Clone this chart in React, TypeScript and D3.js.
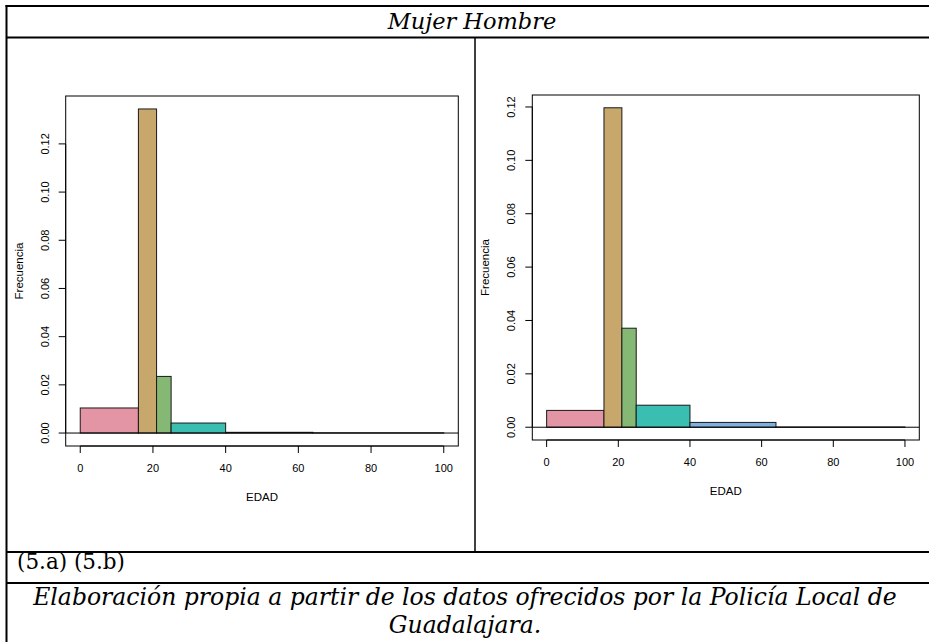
import * as d3 from "d3";
import * as React from "react";

// histogram breaks (EDAD) and densities
const breaks = [0, 16, 21, 25, 40, 64, 100];
const mujerDensity = [0.0104, 0.1345, 0.0235, 0.00415, 0.0003, 0.0001];
const hombreDensity = [0.0063, 0.1197, 0.0371, 0.00825, 0.0018, 0.0001];
const barColors = ["#E495A5", "#C7A76C", "#86B875", "#39BEB1", "#7DB0DD", "#CD99D8"];
const xTicks = [0, 20, 40, 60, 80, 100];
const yTicks = [0, 0.02, 0.04, 0.06, 0.08, 0.1, 0.12];
const xLabel = "EDAD";
const yLabel = "Frecuencia";
const headerText = "Mujer Hombre";
const panelText = "(5.a) (5.b)";
const sourceLines = [
    "Elaboración propia a partir de los datos ofrecidos por la Policía Local de",
    "Guadalajara.",
];

interface Box {
    left: number;
    right: number;
    top: number;
    bottom: number;
}

const sans = "'Liberation Sans', Arial, sans-serif";
const serif = "'DejaVu Serif', Georgia, serif";

const Histogram: React.FC<{ values: number[]; box: Box }> = ({ values, box }) => {
    const [x0, x1] = d3.extent(breaks) as [number, number];
    const padX = (x1 - x0) * 0.04;
    const x = d3.scaleLinear().domain([x0 - padX, x1 + padX]).range([box.left, box.right]);
    const yMax = d3.max(values)!;
    const y = d3.scaleLinear().domain([-yMax * 0.04, yMax * 1.04]).range([box.bottom, box.top]);
    const fmt = d3.format(".2f");
    const bins = values.map((v, i) => ({ lo: breaks[i], hi: breaks[i + 1], v, color: barColors[i] }));

    return (
        <g>
            {bins.map((b, i) => (
                <rect
                    key={i}
                    x={x(b.lo)}
                    y={y(b.v)}
                    width={x(b.hi) - x(b.lo)}
                    height={y(0) - y(b.v)}
                    fill={b.color}
                    stroke="#1a1a1a"
                    strokeWidth={1}
                />
            ))}
            <line x1={box.left} x2={box.right} y1={y(0)} y2={y(0)} stroke="black" strokeWidth={1} />
            <rect x={box.left} y={box.top} width={box.right - box.left} height={box.bottom - box.top}
                  fill="none" stroke="black" strokeWidth={1} />

            {/* x axis */}
            <line x1={x(xTicks[0])} x2={x(xTicks[xTicks.length - 1])} y1={box.bottom} y2={box.bottom} stroke="black" />
            {xTicks.map(t => (
                <g key={t}>
                    <line x1={x(t)} x2={x(t)} y1={box.bottom} y2={box.bottom + 7} stroke="black" />
                    <text x={x(t)} y={box.bottom + 22} textAnchor="middle" dominantBaseline="central"
                          fontFamily={sans} fontSize={11}>{t}</text>
                </g>
            ))}
            <text x={(box.left + box.right) / 2} y={box.bottom + 51} textAnchor="middle" dominantBaseline="central"
                  fontFamily={sans} fontSize={11.5}>{xLabel}</text>

            {/* y axis */}
            <line x1={box.left} x2={box.left} y1={y(yTicks[0])} y2={y(yTicks[yTicks.length - 1])} stroke="black" />
            {yTicks.map(t => (
                <g key={t}>
                    <line x1={box.left} x2={box.left - 7} y1={y(t)} y2={y(t)} stroke="black" />
                    <text transform={`translate(${box.left - 21},${y(t)}) rotate(-90)`} textAnchor="middle"
                          dominantBaseline="central" fontFamily={sans} fontSize={11}>{fmt(t)}</text>
                </g>
            ))}
            <text transform={`translate(${box.left - 47},${(box.top + box.bottom) / 2}) rotate(-90)`}
                  textAnchor="middle" dominantBaseline="central" fontFamily={sans} fontSize={11.5}>{yLabel}</text>
        </g>
    );
};

export default function App() {
    const W = 929;
    const H = 642;
    const L = 6.5;
    const R = 940;
    return (
        <svg width={W} height={H} style={{ position: "absolute", left: 0, top: 0, background: "white" }}>
            <rect width={W} height={H} fill="white" />

            <Histogram values={mujerDensity} box={{ left: 65.7, right: 458.3, top: 96, bottom: 446 }} />
            <Histogram values={hombreDensity} box={{ left: 532.3, right: 919.3, top: 95, bottom: 440 }} />

            {/* table frame */}
            <g stroke="black" strokeWidth={2}>
                <line x1={L - 1} x2={R} y1={6} y2={6} />
                <line x1={L} x2={R} y1={37.5} y2={37.5} />
                <line x1={L} x2={R} y1={552} y2={552} />
                <line x1={L} x2={R} y1={583} y2={583} />
                <line x1={L} x2={L} y1={5} y2={H} />
            </g>
            <line x1={475} x2={475} y1={37.5} y2={552} stroke="black" strokeWidth={1.5} />

            <text x={472} y={29} textAnchor="middle" fontFamily={serif} fontStyle="italic" fontSize={22.5}>{headerText}</text>
            <text x={17} y={569} fontFamily={serif} fontSize={21.5}>{panelText}</text>
            {sourceLines.map((s, i) => (
                <text key={i} x={465} y={605 + i * 28} textAnchor="middle" fontFamily={serif} fontStyle="italic"
                      fontSize={23.5}>{s}</text>
            ))}
        </svg>
    );
}
